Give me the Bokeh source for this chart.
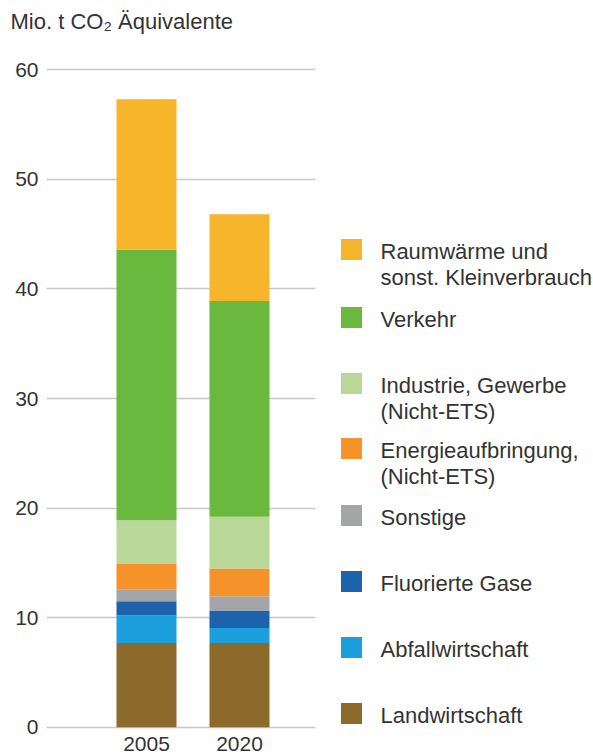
from bokeh.plotting import figure
from bokeh.models import ColumnDataSource, Range1d, FixedTicker, Label
from bokeh.layouts import row
from bokeh.embed import file_html
from bokeh.resources import INLINE
from bokeh.core.properties import value

# ---- data ----
years = [2005, 2020]
year_labels = ["2005", "2020"]
landwirtschaft = [7.7, 7.7]
abfallwirtschaft = [2.5, 1.35]
fluorierte_gase = [1.3, 1.6]
sonstige = [1.1, 1.3]
energieaufbringung = [2.3, 2.55]
industrie = [4.0, 4.7]
verkehr = [24.7, 19.7]
raumwaerme = [13.7, 7.9]

# stack order bottom -> top
keys = ["landwirtschaft", "abfallwirtschaft", "fluorierte_gase", "sonstige",
        "energieaufbringung", "industrie", "verkehr", "raumwaerme"]
labels = ["Landwirtschaft", "Abfallwirtschaft", "Fluorierte Gase", "Sonstige",
          "Energieaufbringung,\n(Nicht-ETS)", "Industrie, Gewerbe\n(Nicht-ETS)",
          "Verkehr", "Raumwärme und\nsonst. Kleinverbrauch"]
colors = ["#8C6A2C", "#1E9FDD", "#1D62AC", "#A3A5A8",
          "#F5922A", "#B9D898", "#6BB83E", "#F7B52C"]
y_ticks = [0, 10, 20, 30, 40, 50, 60]
title_text = "Mio. t CO\u2082 Äquivalente"

FONT = "Liberation Sans"
TXT = "#333333"

# layout (pixels)
FRAME_TOP = 67
FRAME_H = 662
BORDER_BOTTOM = 756 - FRAME_TOP - FRAME_H

source = ColumnDataSource(dict(
    year=years, landwirtschaft=landwirtschaft, abfallwirtschaft=abfallwirtschaft,
    fluorierte_gase=fluorierte_gase, sonstige=sonstige,
    energieaufbringung=energieaufbringung, industrie=industrie,
    verkehr=verkehr, raumwaerme=raumwaerme))

p = figure(frame_width=269, frame_height=FRAME_H, output_backend="svg",
           toolbar_location=None, x_range=Range1d(1988.87, 2032.26),
           y_range=Range1d(-0.2, 60.2),
           min_border_left=46, min_border_right=5, min_border_top=FRAME_TOP,
           min_border_bottom=BORDER_BOTTOM, outline_line_color=None)

p.vbar_stack(keys, x="year", width=9.68, fill_color=colors, line_color=None,
             source=source)

p.xgrid.grid_line_color = None
p.ygrid.ticker = FixedTicker(ticks=y_ticks)
p.ygrid.grid_line_color = "#c8c8c8"
p.ygrid.grid_line_width = 1.5

p.yaxis.ticker = FixedTicker(ticks=y_ticks)
p.xaxis.ticker = FixedTicker(ticks=years)
p.xaxis.major_label_overrides = {y: l for y, l in zip(years, year_labels)}
for ax in (p.xaxis, p.yaxis):
    ax.axis_line_color = None
    ax.major_tick_line_color = None
    ax.minor_tick_line_color = None
    ax.major_tick_out = 0
    ax.major_tick_in = 0
    ax.major_label_text_font = FONT
    ax.major_label_text_font_size = "21px"
    ax.major_label_text_color = TXT
p.yaxis.major_label_standoff = 8
p.xaxis.major_label_standoff = 7

# title, placed in the panel above the frame
p.add_layout(Label(x=-36, y=46, x_units="screen", y_units="screen",
                   text=title_text, text_font=FONT, text_font_size="22px",
                   text_color=TXT, text_baseline="middle", text_align="left"),
             "above")

# ---- legend panel (pixel coordinates of the page) ----
lg = figure(frame_width=273, frame_height=FRAME_H, output_backend="svg",
            toolbar_location=None,
            x_range=Range1d(320, 593),
            y_range=Range1d(FRAME_TOP + FRAME_H, FRAME_TOP),
            min_border_left=0, min_border_right=0, min_border_top=FRAME_TOP,
            min_border_bottom=BORDER_BOTTOM, outline_line_color=None)
lg.axis.visible = False
lg.grid.visible = False

legend_y = [713, 647, 581, 515, 448, 383, 317, 249]  # centre of each swatch
line_gap = 26
lg.rect(x=[351] * len(colors), y=legend_y, width=21, height=21,
        fill_color=colors, line_color=None)
tx, ty, tt = [], [], []
for lab, yy in zip(labels, legend_y):
    for i, part in enumerate(lab.split("\n")):
        tx.append(380)
        ty.append(yy + 2 + i * line_gap)
        tt.append(part)
lg.text(x=tx, y=ty, text=tt, text_font=value(FONT), text_font_size="22px",
        text_color=TXT, text_baseline="middle", text_align="left")

layout = row(p, lg, spacing=0)
open("out.html", "w").write(file_html(layout, INLINE))
